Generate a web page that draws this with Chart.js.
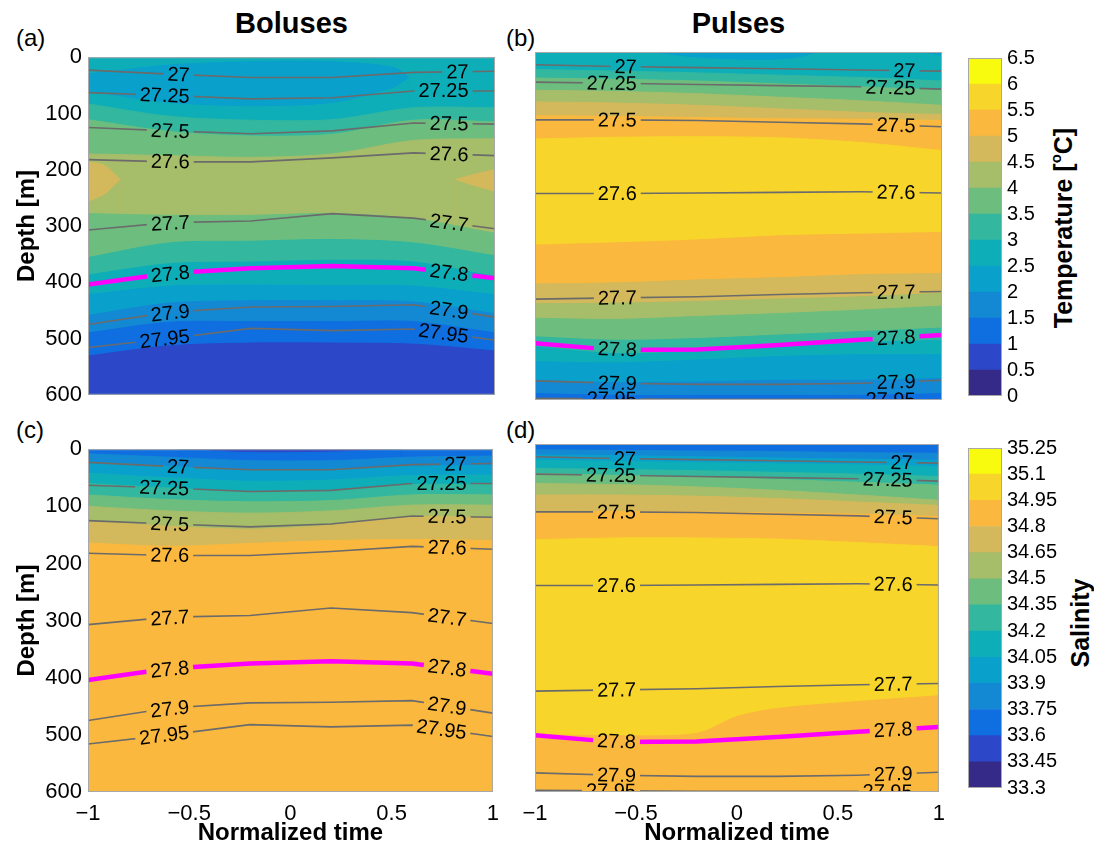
<!DOCTYPE html>
<html>
<head>
<meta charset="utf-8">
<script src="https://cdn.jsdelivr.net/npm/chart.js@4.4.1/dist/chart.umd.min.js"></script>
<style>
  body { margin: 0; background: #fff; width: 1094px; height: 849px; position: relative; overflow: hidden;
         font-family: "Liberation Sans", Arial, sans-serif; color: #000; }
  canvas { position: absolute; }
  .txt { position: absolute; line-height: 1; white-space: nowrap; }
  .title { font-weight: bold; font-size: 29px; text-align: center; }
  .tag { font-size: 24px; }
  .cbar { font-weight: bold; font-size: 25px; transform: translate(-50%, -50%) rotate(-90deg); }
  .cbar sup { font-size: 0.6em; vertical-align: 0.75em; }
</style>
</head>
<body>
<div class="txt title" style="left:88px;width:407px;top:9px">Boluses</div>
<div class="txt title" style="left:535px;width:407px;top:9px">Pulses</div>
<div class="txt tag" style="left:16px;top:26px">(a)</div>
<div class="txt tag" style="left:506px;top:26px">(b)</div>
<div class="txt tag" style="left:16px;top:418px">(c)</div>
<div class="txt tag" style="left:506px;top:418px">(d)</div>
<div class="txt cbar" style="left:1062px;top:228px">Temperature [<sup>o</sup>C]</div>
<div class="txt cbar" style="left:1080px;top:623px">Salinity</div>

<canvas id="panelA"></canvas>
<canvas id="panelB"></canvas>
<canvas id="panelC"></canvas>
<canvas id="panelD"></canvas>
<canvas id="barT"></canvas>
<canvas id="barS"></canvas>

<script>
// --- data ---
// normalized time of the six profiles
const timeAxis = [-1, -0.6, -0.2, 0.2, 0.6, 1];

// isopycnal depths (m), one row per density level
const densityLevels = ['27', '27.25', '27.5', '27.6', '27.7', '27.8', '27.9', '27.95'];
const bolusIsopycnals = [
  [23, 30, 36, 36, 27, 25],
  [63, 68, 74, 72, 60, 60],
  [125, 131, 136, 131, 117, 119],
  [182, 186, 186, 179, 170, 175],
  [307, 294, 291, 278, 286, 305],
  [404, 384, 375, 371, 375, 393],
  [475, 453, 444, 443, 440, 462],
  [516, 500, 482, 486, 483, 503]
];
const pulseIsopycnals = [
  [22, 25, 27, 29, 31, 33],
  [52, 54, 56, 58, 60, 64],
  [117, 117, 118, 121, 124, 129],
  [244, 244, 243, 242, 241, 243],
  [426, 424, 422, 418, 415, 413],
  [502, 514, 513, 505, 496, 488],
  [567, 571, 573, 573, 571, 566],
  [597, 598, 599, 599, 599, 600]
];

// colour classes
const temperatureTicks = [0, 0.5, 1, 1.5, 2, 2.5, 3, 3.5, 4, 4.5, 5, 5.5, 6, 6.5];
const salinityTicks = ['33.3', '33.45', '33.6', '33.75', '33.9', '34.05', '34.2',
                       '34.35', '34.5', '34.65', '34.8', '34.95', '35.1', '35.25'];
const parula = ['#352a87', '#2c48c9', '#0f6fe0', '#1389d4', '#09a0cc', '#0eaeb9', '#33b79f',
                '#6dbe7e', '#a6bd6a', '#d3b95b', '#fbb83e', '#f7d52a', '#f9fb0e'];

// filled contour edges, painted top to bottom: [class below the edge, [[time, depth], ...]]
const bolusTemperatureEdges = [
  [5, [[-1, 0], [1, 0]]],
  [4, [[-1, 30], [-0.6, 14], [-0.2, 8], [0.2, 8], [0.5, 18], [0.58, 36]]],
  [5, [[-1, 62], [-0.6, 82], [-0.2, 88], [0.2, 82], [0.5, 55], [0.58, 36]]],
  [6, [[-1, 83], [-0.6, 105], [-0.2, 112], [0.2, 111], [0.6, 90], [1, 90]]],
  [7, [[-1, 111], [-0.6, 132], [-0.2, 140], [0.2, 137], [0.6, 112], [1, 115]]],
  [8, [[-1, 172], [-0.6, 175], [-0.2, 178], [0.2, 172], [0.6, 148], [1, 145]]],
  [9, [[-1, 186], [-0.92, 192], [-0.84, 218]]],
  [8, [[-1, 258], [-0.92, 245], [-0.84, 218]]],
  [9, [[0.8, 218], [0.9, 208], [1, 200]]],
  [8, [[0.8, 218], [0.9, 230], [1, 240]]],
  [7, [[-1, 278], [-0.6, 281], [-0.2, 281], [0.2, 278], [0.6, 287], [1, 313]]],
  [6, [[-1, 356], [-0.6, 330], [-0.2, 327], [0.2, 324], [0.6, 330], [1, 353]]],
  [5, [[-1, 387], [-0.6, 367], [-0.2, 364], [0.2, 361], [0.6, 364], [1, 390]]],
  [4, [[-1, 422], [-0.6, 407], [-0.2, 405], [0.2, 406], [0.6, 407], [1, 422]]],
  [3, [[-1, 459], [-0.6, 437], [-0.2, 433], [0.2, 433], [0.6, 435], [1, 456]]],
  [2, [[-1, 490], [-0.6, 471], [-0.2, 470], [0.2, 470], [0.6, 470], [1, 490]]],
  [1, [[-1, 531], [-0.6, 513], [-0.2, 508], [0.2, 508], [0.6, 510], [1, 522]]]
];
const pulseTemperatureEdges = [
  [5, [[-1, 0], [1, 0]]],
  [4, [[-0.45, 0], [0.4, 0]]],
  [5, [[-0.45, 0], [-0.25, 9], [0, 14], [0.2, 14], [0.32, 8], [0.4, 0]]],
  [4, [[0.88, 0], [1, 0]]],
  [5, [[0.88, 0], [0.95, 4], [1, 8]]],
  [6, [[-1, 30], [-0.6, 33], [-0.2, 36], [0.2, 40], [0.6, 44], [1, 50]]],
  [7, [[-1, 45], [-0.6, 47], [-0.2, 50], [0.2, 55], [0.6, 60], [1, 66]]],
  [8, [[-1, 66], [-0.6, 68], [-0.2, 72], [0.2, 78], [0.6, 84], [1, 92]]],
  [9, [[-1, 86], [-0.6, 88], [-0.2, 92], [0.2, 98], [0.6, 104], [1, 108]]],
  [10, [[-1, 110], [-0.6, 111], [-0.2, 113], [0.2, 115], [0.6, 116], [1, 118]]],
  [11, [[-1, 150], [-0.6, 147], [-0.2, 146], [0.2, 148], [0.6, 156], [1, 170]]],
  [10, [[-1, 333], [-0.6, 329], [-0.2, 324], [0.2, 317], [0.6, 314], [1, 311]]],
  [9, [[-1, 400], [-0.6, 398], [-0.2, 393], [0.2, 389], [0.6, 384], [1, 382]]],
  [8, [[-1, 434], [-0.6, 433], [-0.2, 430], [0.2, 426], [0.6, 422], [1, 416]]],
  [7, [[-1, 459], [-0.6, 461], [-0.2, 456], [0.2, 451], [0.6, 445], [1, 438]]],
  [6, [[-1, 491], [-0.6, 497], [-0.2, 494], [0.2, 488], [0.6, 482], [1, 476]]],
  [5, [[-1, 508], [-0.6, 520], [-0.2, 516], [0.2, 508], [0.6, 501], [1, 497]]],
  [4, [[-1, 534], [-0.6, 536], [-0.2, 531], [0.2, 525], [0.6, 522], [1, 522]]],
  [3, [[-1, 566], [-0.6, 570], [-0.2, 569], [0.2, 566], [0.6, 566], [1, 563]]],
  [2, [[-1, 589], [-0.6, 592], [-0.2, 592], [0.2, 592], [0.6, 592], [1, 589]]]
];
const bolusSalinityEdges = [
  [2, [[-1, 0], [1, 0]]],
  [1, [[-0.55, 0], [0.55, 0]]],
  [2, [[-0.55, 0], [-0.2, 6], [0.2, 5], [0.55, 0]]],
  [3, [[-1, 8], [-0.6, 14], [-0.2, 20], [0.2, 20], [0.6, 14], [1, 12]]],
  [4, [[-1, 22], [-0.6, 30], [-0.2, 36], [0.2, 35], [0.6, 30], [1, 28]]],
  [5, [[-1, 42], [-0.6, 50], [-0.2, 56], [0.2, 54], [0.6, 46], [1, 45]]],
  [6, [[-1, 60], [-0.6, 68], [-0.2, 74], [0.2, 72], [0.6, 62], [1, 62]]],
  [7, [[-1, 80], [-0.6, 88], [-0.2, 92], [0.2, 90], [0.6, 80], [1, 80]]],
  [8, [[-1, 100], [-0.6, 108], [-0.2, 112], [0.2, 108], [0.6, 98], [1, 98]]],
  [9, [[-1, 125], [-0.6, 135], [-0.2, 140], [0.2, 133], [0.6, 118], [1, 120]]],
  [10, [[-1, 164], [-0.6, 170], [-0.2, 165], [0.2, 160], [0.6, 158], [1, 160]]]
];
const pulseSalinityEdges = [
  [2, [[-1, 0], [1, 0]]],
  [3, [[-1, 10], [-0.6, 11], [-0.2, 12], [0.2, 13], [0.6, 15], [1, 16]]],
  [4, [[-1, 19], [-0.6, 20], [-0.2, 22], [0.2, 24], [0.6, 26], [1, 28]]],
  [5, [[-1, 28], [-0.6, 30], [-0.2, 32], [0.2, 34], [0.6, 36], [1, 39]]],
  [6, [[-1, 42], [-0.6, 44], [-0.2, 46], [0.2, 49], [0.6, 52], [1, 56]]],
  [7, [[-1, 51], [-0.6, 54], [-0.2, 57], [0.2, 61], [0.6, 66], [1, 71]]],
  [8, [[-1, 68], [-0.6, 70], [-0.2, 74], [0.2, 80], [0.6, 88], [1, 97]]],
  [9, [[-1, 88], [-0.6, 88], [-0.2, 90], [0.2, 94], [0.6, 100], [1, 106]]],
  [10, [[-1, 117], [-0.6, 116], [-0.2, 117], [0.2, 119], [0.6, 121], [1, 125]]],
  [11, [[-1, 165], [-0.6, 162], [-0.2, 162], [0.2, 164], [0.6, 170], [1, 177]]],
  [10, [[-1, 501], [-0.6, 503], [-0.2, 499], [0, 470], [0.2, 456], [0.6, 444], [1, 434]]]
];

// --- setup ---
Chart.defaults.font.family = '"Liberation Sans", Arial, sans-serif';
Chart.defaults.color = '#000';
const LABEL_FONT = '20px "Liberation Sans", Arial, sans-serif';

// depth pixel of a polyline at pixel x
function yOnLine(pts, x) {
  for (let i = 0; i < pts.length - 1; i++) {
    const a = pts[i], b = pts[i + 1];
    if (x >= a.x && x <= b.x) return a.y + (b.y - a.y) * (x - a.x) / (b.x - a.x);
  }
  return x < pts[0].x ? pts[0].y : pts[pts.length - 1].y;
}

// inline contour labels: cut a gap in the line, then write the level on it
const contourLabels = {
  id: 'contourLabels',
  beforeDatasetsDraw(chart, args, opts) {
    const ctx = chart.ctx;
    const xs = chart.scales.x;
    ctx.save();
    ctx.font = LABEL_FONT;
    const boxes = [];
    chart.data.datasets.forEach((ds, di) => {
      if (!ds.level) return;
      const pts = chart.getDatasetMeta(di).data;
      const w = ctx.measureText(ds.level).width;
      opts.anchors.forEach(a => {
        const xr = xs.getPixelForValue(a);
        const xl = xr - w;
        const yl = yOnLine(pts, xl), yr = yOnLine(pts, xr);
        boxes.push({ di, text: ds.level, w, cx: (xl + xr) / 2, cy: (yl + yr) / 2,
                     angle: Math.atan2(yr - yl, xr - xl) });
      });
    });
    ctx.restore();
    chart.$contourBoxes = boxes;
  },
  beforeDatasetDraw(chart, args, opts) {
    if (!chart.data.datasets[args.index].level) return;
    const ctx = chart.ctx, a = chart.chartArea;
    ctx.save();
    ctx.beginPath();
    ctx.rect(a.left - 10, a.top - 10, a.right - a.left + 20, a.bottom - a.top + 20);
    chart.$contourBoxes.filter(b => b.di === args.index).forEach(b => {
      const hw = b.w / 2 + opts.gap, hh = opts.gapHeight / 2;
      const c = Math.cos(b.angle), s = Math.sin(b.angle);
      const p = [[-hw, -hh], [hw, -hh], [hw, hh], [-hw, hh]]
        .map(([dx, dy]) => [b.cx + dx * c - dy * s, b.cy + dx * s + dy * c]);
      ctx.moveTo(p[0][0], p[0][1]);
      for (let i = 1; i < 4; i++) ctx.lineTo(p[i][0], p[i][1]);
      ctx.closePath();
    });
    ctx.clip('evenodd');
  },
  afterDatasetDraw(chart, args) {
    if (chart.data.datasets[args.index].level) chart.ctx.restore();
  },
  afterDatasetsDraw(chart) {
    const ctx = chart.ctx, a = chart.chartArea;
    ctx.save();
    ctx.beginPath();
    ctx.rect(a.left, a.top, a.right - a.left, a.bottom - a.top);
    ctx.clip();
    ctx.font = LABEL_FONT;
    ctx.fillStyle = '#000';
    ctx.textAlign = 'center';
    ctx.textBaseline = 'middle';
    chart.$contourBoxes.forEach(b => {
      ctx.save();
      ctx.translate(b.cx, b.cy);
      ctx.rotate(b.angle);
      ctx.fillText(b.text, 0, 1);
      ctx.restore();
    });
    ctx.restore();
  }
};

// thin box around the plotting area
const frame = {
  id: 'frame',
  afterDraw(chart, args, opts) {
    const ctx = chart.ctx, a = chart.chartArea;
    ctx.save();
    ctx.strokeStyle = opts.color;
    ctx.lineWidth = 1;
    ctx.strokeRect(a.left + 0.5, a.top + 0.5, a.right - a.left - 1, a.bottom - a.top - 1);
    ctx.restore();
  }
};

function place(id, g) {
  const c = document.getElementById(id);
  c.width = g.w;
  c.height = g.h;
  c.style.left = g.x + 'px';
  c.style.top = g.y + 'px';
  return c;
}

function makePanel(id, g, edges, isopycnals, showX, showY) {
  const canvas = place(id, g);
  const datasets = [];
  edges.forEach(([cls, pts], i) => {
    datasets.push({
      data: pts.map(([t, d]) => ({ x: t, y: d })),
      backgroundColor: parula[cls],
      borderColor: parula[cls],
      borderWidth: 1,
      fill: { value: 600 },
      tension: 0.3,
      pointRadius: 0,
      order: 1000 - i
    });
  });
  isopycnals.forEach((depths, k) => {
    const level = densityLevels[k];
    const key = level === '27.8';
    datasets.push({
      level,
      data: depths.map((d, i) => ({ x: timeAxis[i], y: d })),
      borderColor: key ? '#ff00ff' : '#6b6b6b',
      borderWidth: key ? 4.5 : 1.6,
      fill: false,
      tension: 0,
      pointRadius: 0,
      order: 0
    });
  });

  const xScale = {
    type: 'linear', min: -1, max: 1, display: showX,
    grid: { display: false, drawTicks: false }, border: { display: false },
    ticks: { stepSize: 0.5, padding: 9, maxRotation: 0, font: { size: 22 }, color: '#000',
             callback: v => (v < 0 ? '\u2212' + Math.abs(v) : String(v)) },
    title: { display: true, text: 'Normalized time', color: '#000',
             font: { size: 24, weight: 'bold' }, padding: { top: 0, bottom: 1 } }
  };
  if (showX) xScale.afterFit = s => { s.height = 57; };
  const yScale = {
    type: 'linear', min: 0, max: 600, reverse: true, display: showY,
    grid: { display: false, drawTicks: false }, border: { display: false },
    ticks: { stepSize: 100, padding: 6, font: { size: 22 }, color: '#000' },
    title: { display: true, text: 'Depth [m]', color: '#000',
             font: { size: 24, weight: 'bold' }, padding: { top: 13, bottom: 0 } }
  };
  if (showY) yScale.afterFit = s => { s.width = 88; };

  return new Chart(canvas, {
    type: 'line',
    data: { datasets },
    options: {
      responsive: false,
      animation: false,
      devicePixelRatio: 1,
      events: [],
      layout: { padding: g.pad },
      scales: { x: xScale, y: yScale },
      plugins: {
        legend: { display: false },
        tooltip: { enabled: false },
        contourLabels: { anchors: [-0.5, 0.87], gap: 4, gapHeight: 12 },
        frame: { color: '#a8a8a8' }
      }
    },
    plugins: [contourLabels, frame]
  });
}

function makeColorbar(id, g, values, labels) {
  const canvas = place(id, g);
  const datasets = parula.map((c, i) => ({
    data: [[values[i], values[i + 1]]],
    backgroundColor: c,
    borderWidth: 0,
    grouped: false,
    barPercentage: 1,
    categoryPercentage: 1
  }));
  return new Chart(canvas, {
    type: 'bar',
    data: { labels: [''], datasets },
    options: {
      responsive: false,
      animation: false,
      devicePixelRatio: 1,
      events: [],
      layout: { padding: g.pad },
      scales: {
        x: { display: false },
        y: {
          position: 'right', min: values[0], max: values[values.length - 1],
          grid: { display: false, drawTicks: false }, border: { display: false },
          afterBuildTicks: ax => { ax.ticks = values.map(v => ({ value: v })); },
          afterFit: ax => { ax.width = 92; },
          ticks: { autoSkip: false, padding: 5, font: { size: 20 }, color: '#000',
                   callback: (v, i) => labels[i] }
        }
      },
      plugins: { legend: { display: false }, tooltip: { enabled: false },
                 frame: { color: '#a8a8a8' } }
    },
    plugins: [frame]
  });
}

makePanel('panelA', { x: 0, y: 38, w: 508, h: 376, pad: { left: 0, top: 14, right: 13, bottom: 14 } },
          bolusTemperatureEdges, bolusIsopycnals, false, true);
makePanel('panelB', { x: 510, y: 38, w: 444, h: 376, pad: { left: 25, top: 14, right: 12, bottom: 14 } },
          pulseTemperatureEdges, pulseIsopycnals, false, false);
makePanel('panelC', { x: 0, y: 430, w: 508, h: 419, pad: { left: 0, top: 14, right: 13, bottom: 0 } },
          bolusSalinityEdges, bolusIsopycnals, true, true);
makePanel('panelD', { x: 510, y: 430, w: 444, h: 419, pad: { left: 25, top: 14, right: 12, bottom: 0 } },
          pulseSalinityEdges, pulseIsopycnals, true, false);

makeColorbar('barT', { x: 960, y: 41, w: 134, h: 372, pad: { left: 8, top: 12, right: 0, bottom: 12 } },
             temperatureTicks, temperatureTicks.map(String));
makeColorbar('barS', { x: 960, y: 431, w: 134, h: 374, pad: { left: 8, top: 12, right: 0, bottom: 12 } },
             salinityTicks.map(Number), salinityTicks);
</script>
</body>
</html>
